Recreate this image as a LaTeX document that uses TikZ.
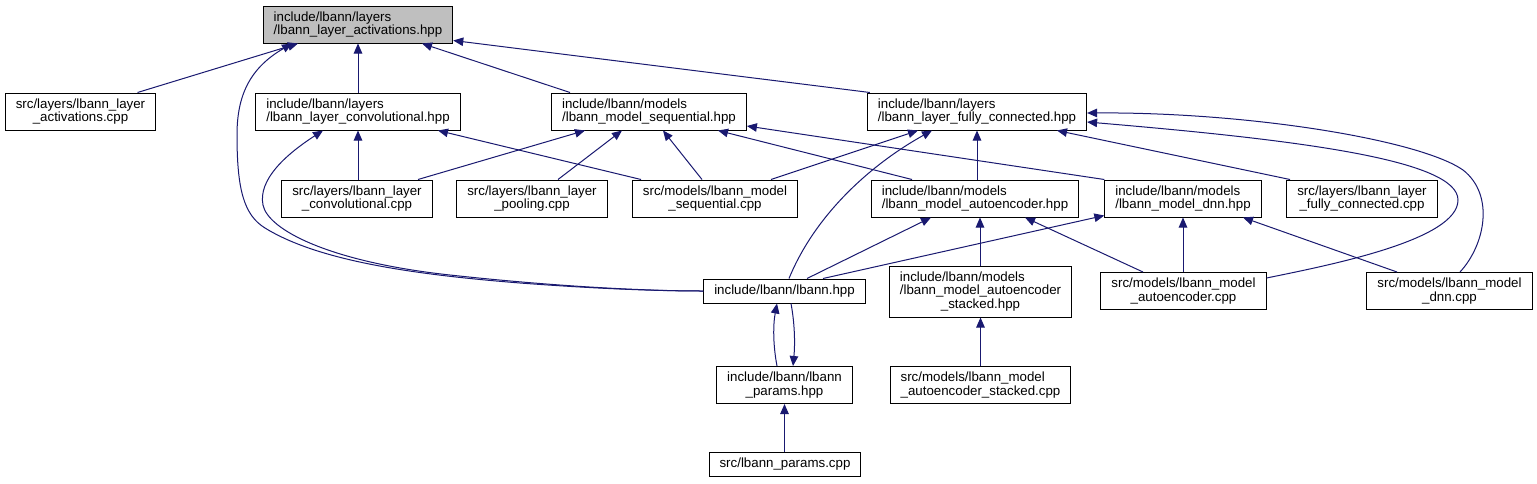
\documentclass[tikz,border=0pt]{standalone}
\usepackage{fontspec}
\setmainfont{Liberation Sans}
\usetikzlibrary{arrows.meta,calc}
\definecolor{Edge}{HTML}{191970}
\definecolor{RootFill}{HTML}{BFBFBF}
\tikzset{
  hdrbox/.style={draw=black,fill=white,line width=1pt,minimum height=37pt,inner xsep=10.5pt,inner ysep=0pt,align=left,font=\fontsize{13.3}{13.8}\selectfont},
  srcbox/.style={hdrbox,align=center},
  rootbox/.style={hdrbox,fill=RootFill},
  line/.style={{Triangle[length=10pt,width=8.5pt]}-,draw=Edge,fill=none,line width=1pt}
}

\begin{document}
\begin{tikzpicture}[x=1pt,y=-1pt]
  \path[use as bounding box,fill=white] (0,0) rectangle (1537,483);
  \node[rootbox] (act) at (358,24.5) {include/lbann/layers\\/lbann\_layer\_activations.hpp};
  \node[srcbox] (actcpp) at (80.5,111.5) {src/layers/lbann\_layer\\\_activations.cpp};
  \node[hdrbox] (conv) at (358,111.5) {include/lbann/layers\\/lbann\_layer\_convolutional.hpp};
  \node[hdrbox] (seq) at (649,111.5) {include/lbann/models\\/lbann\_model\_sequential.hpp};
  \node[hdrbox] (fc) at (977,111.5) {include/lbann/layers\\/lbann\_layer\_fully\_connected.hpp};
  \node[srcbox] (convcpp) at (357,198.5) {src/layers/lbann\_layer\\\_convolutional.cpp};
  \node[srcbox] (poolcpp) at (532,198.5) {src/layers/lbann\_layer\\\_pooling.cpp};
  \node[srcbox] (seqcpp) at (715,198.5) {src/models/lbann\_model\\\_sequential.cpp};
  \node[hdrbox] (ae) at (975,198.5) {include/lbann/models\\/lbann\_model\_autoencoder.hpp};
  \node[hdrbox] (dnn) at (1183,198.5) {include/lbann/models\\/lbann\_model\_dnn.hpp};
  \node[srcbox] (fccpp) at (1362,198.5) {src/layers/lbann\_layer\\\_fully\_connected.cpp};
  \node[hdrbox,minimum height=24pt] (lbann) at (784.5,291) {include/lbann/lbann.hpp};
  \node[hdrbox,minimum height=51pt] (aes) at (980.5,291.5) {include/lbann/models\\/lbann\_model\_autoencoder\\\hfil\_stacked.hpp};
  \node[srcbox] (aecpp) at (1183.5,291) {src/models/lbann\_model\\\_autoencoder.cpp};
  \node[srcbox] (dnncpp) at (1449.5,291) {src/models/lbann\_model\\\_dnn.cpp};
  \node[srcbox] (params) at (784.5,385) {include/lbann/lbann\\\_params.hpp};
  \node[hdrbox] (aescpp) at (980.5,385) {src/models/lbann\_model\\\_autoencoder\_stacked.cpp};
  \node[srcbox,minimum height=24pt] (paramscpp) at (785,464.5) {src/lbann\_params.cpp};

  \draw[line] ([xshift=-60pt]act.south) -- ([xshift=57pt]actcpp.north);
  \draw[line] ([xshift=-66pt]act.south) .. controls (250,68) and (237,95) .. (237,135)
    .. controls (237,190) and (244,215) .. (265,228) .. controls (320,262) and (420,275) .. (520,283)
    .. controls (600,289) and (660,291) .. (lbann.west);
  \draw[line] (act.south) -- (conv.north);
  \draw[line] ([xshift=64pt]act.south) -- ([xshift=-79pt]seq.north);
  \draw[line] ([yshift=-16pt]act.east) -- ([xshift=3pt]fc.north west);

  \draw[line] (conv.south) -- (conv.south |- convcpp.north);
  \draw[line] ([xshift=80pt]conv.south) -- ([xshift=-74pt]seqcpp.north);
  \draw[line] ([xshift=-35pt]conv.south) .. controls (285,155) and (258,180) .. (263,205)
    .. controls (268,230) and (330,262) .. (450,275) .. controls (560,287) and (650,291) .. (lbann.west);

  \draw[line] ([xshift=-64pt]seq.south) -- ([xshift=61pt]convcpp.north);
  \draw[line] ([xshift=-27pt]seq.south) -- ([xshift=26pt]poolcpp.north);
  \draw[line] ([xshift=14pt]seq.south) -- ([xshift=-13pt]seqcpp.north);
  \draw[line] ([xshift=69pt]seq.south) -- ([xshift=-63pt]ae.north);
  \draw[line] ([yshift=-14.5pt]seq.east) -- (dnn.north west);

  \draw[line] ([xshift=-59pt]fc.south) -- ([xshift=56pt]seqcpp.north);
  \draw[line] ([xshift=-45pt]fc.south) .. controls (870,165) and (815,215) .. ([xshift=4.5pt]lbann.north);
  \draw[line] (fc.south) -- (fc.south |- ae.north);
  \draw[line] ([xshift=80pt]fc.south) -- ([xshift=-72pt]fccpp.north);
  \draw[line] ([yshift=-1.5pt]fc.east) .. controls (1250,112) and (1420,140) .. (1463,170)
    .. controls (1495,195) and (1485,245) .. ([xshift=10.5pt]dnncpp.north);
  \draw[line] ([yshift=-10.5pt]fc.east) .. controls (1300,140) and (1458,160) .. (1458,200)
    .. controls (1458,240) and (1330,265) .. ([yshift=13pt]aecpp.east);

  \draw[line] ([xshift=-44pt]ae.south) -- ([xshift=22.5pt]lbann.north);
  \draw[line] ([xshift=5pt]ae.south) -- ([xshift=-0.5pt]aes.north);
  \draw[line] ([xshift=50pt]ae.south) -- ([xshift=-40.5pt]aecpp.north);

  \draw[line] ([yshift=2pt]dnn.south west) -- ([xshift=38.5pt]lbann.north);
  \draw[line] (dnn.south) -- (dnn.south |- aecpp.north);
  \draw[line] ([xshift=60pt]dnn.south) -- ([xshift=-52.5pt]dnncpp.north);

  \draw[line] ([xshift=-7.5pt]lbann.south) .. controls (773,325) and (773,345) .. ([xshift=-7.5pt]params.north);
  \draw[line] ([xshift=8.5pt]params.north) .. controls (795,345) and (795,325) .. ([xshift=6.5pt]lbann.south);
  \draw[line] (params.south) -- (params.south |- paramscpp.north);
  \draw[line] (aes.south) -- (aes.south |- aescpp.north);
\end{tikzpicture}
\end{document}
